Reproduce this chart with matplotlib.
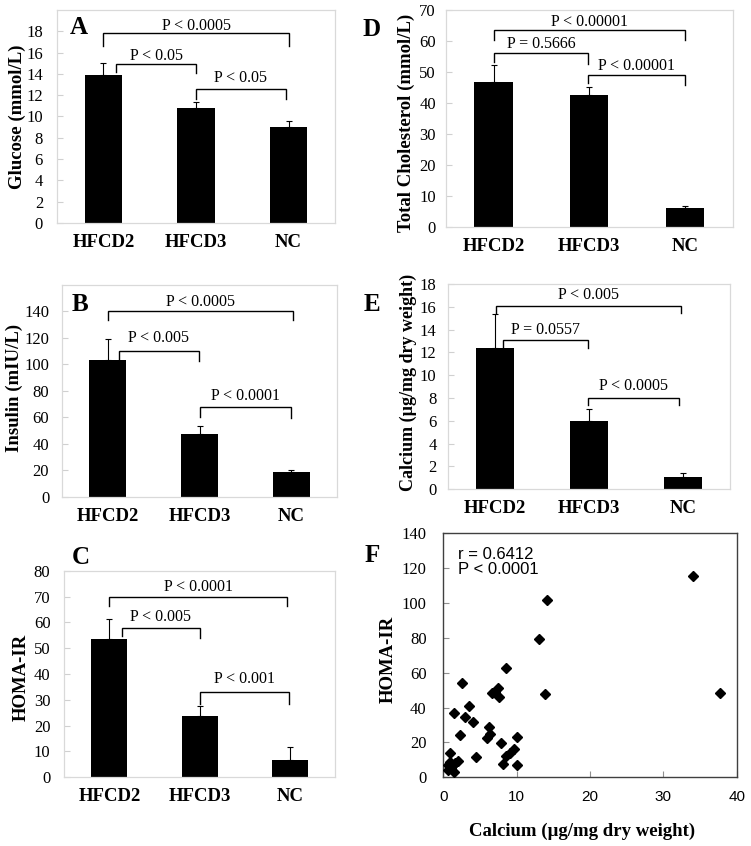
import matplotlib
matplotlib.use("Agg")
import matplotlib.pyplot as plt
import numpy as np

W, H = 751, 846
SERIF = "Liberation Serif"
SANS = "Liberation Sans"

# ---------------- data ----------------
groups = ["HFCD2", "HFCD3", "NC"]

glucose = [13.9, 10.8, 9.0]
glucose_err = [1.1, 0.6, 0.6]

insulin = [103.4, 47.3, 18.4]
insulin_err = [16.1, 6.2, 1.8]

homa = [53.4, 23.9, 6.7]
homa_err = [8.0, 3.7, 5.2]

cholesterol = [46.7, 42.7, 6.2]
cholesterol_err = [5.5, 2.5, 0.5]

calcium = [12.4, 6.0, 1.1]
calcium_err = [3.0, 1.07, 0.3]

# scatter (panel F)
calcium_x = [34.0, 14.1, 13.0, 8.5, 2.6, 13.9, 37.7, 6.6, 7.4, 7.6, 7.0,
             3.5, 1.5, 2.9, 4.1, 6.2, 6.4, 5.9, 2.3, 10.0, 7.9, 9.6, 9.1,
             8.6, 0.9, 4.4, 8.1, 10.0, 2.0, 1.6, 0.7, 1.1, 1.4, 0.7, 0.9, 1.2]
homa_y = [115.5, 102.0, 79.5, 62.5, 54.0, 48.0, 48.5, 48.6, 51.1, 46.3, 49.0,
          41.1, 36.7, 34.4, 31.5, 29.0, 24.8, 22.4, 24.0, 22.9, 19.9, 16.2, 13.7,
          12.2, 14.1, 11.9, 7.6, 7.1, 9.3, 8.0, 7.1, 5.2, 3.2, 4.2, 9.0, 6.5]

# significance brackets: (x1, x2, y_top, y_left_end, y_right_end, text, text_y)
brackets_A = [(0.0, 2.0, 17.8, 16.6, 16.6, "P < 0.0005", 18.5),
              (0.14, 1.0, 14.95, 14.2, 14.1, "P < 0.05", 15.7),
              (1.0, 1.97, 12.6, 11.6, 11.6, "P < 0.05", 13.6)]
brackets_B = [(0.0, 2.02, 140, 133.2, 133.2, "P < 0.0005", 147),
              (0.12, 0.99, 110, 104, 102.6, "P < 0.005", 120),
              (1.0, 2.0, 68, 60.5, 59.3, "P < 0.0001", 76)]
brackets_C = [(0.0, 1.97, 69.9, 66.3, 66.3, "P < 0.0001", 73.8),
              (0.14, 1.0, 57.7, 54.7, 54.1, "P < 0.005", 61.9),
              (1.0, 1.99, 33.1, 28.4, 28.4, "P < 0.001", 37.9)]
brackets_D = [(0.0, 2.0, 63.4, 60.3, 60.3, "P < 0.00001", 66.1),
              (0.0, 0.99, 56.2, 53.1, 52.4, "P = 0.5666", 58.9),
              (0.99, 2.0, 48.9, 46.5, 45.9, "P < 0.00001", 51.8)]
brackets_E = [(0.01, 1.98, 16.1, 15.5, 15.5, "P < 0.005", 17.0),
              (0.09, 0.99, 13.1, 12.4, 12.4, "P = 0.0557", 14.0),
              (0.99, 1.96, 8.0, 7.4, 7.4, "P < 0.0005", 9.06)]

# ---------------- figure ----------------
fig = plt.figure(figsize=(W / 100, H / 100), dpi=100)


def add_ax(left, right, top, bottom):
    return fig.add_axes([left / W, 1 - bottom / H, (right - left) / W, (bottom - top) / H])


def ftext(x, y, s, **kw):
    fig.text(x / W, 1 - y / H, s, **kw)


def bar_panel(ax, vals, errs, ymax, yticks, brackets, pad):
    x = np.arange(len(groups))
    ax.bar(x, vals, width=0.4, color="black", zorder=2)
    ax.errorbar(x, vals, yerr=[np.zeros(len(vals)), errs], fmt="none",
                ecolor="black", elinewidth=0.8, capsize=2, capthick=0.8, zorder=3)
    ax.set_xlim(-0.5, 2.5)
    ax.set_ylim(0, ymax)
    ax.set_yticks(yticks)
    ax.set_yticklabels([str(t) for t in yticks], fontfamily=SERIF, fontsize=12)
    ax.set_xticks(x)
    ax.set_xticklabels(groups, fontfamily=SERIF, fontsize=13.5, fontweight="bold")
    ax.tick_params(axis="x", length=0, pad=8)
    ax.tick_params(axis="y", direction="in", length=4, color="#d0d0d0", pad=pad)
    for sp in ax.spines.values():
        sp.set_color("#d9d9d9")
        sp.set_linewidth(0.9)
    for (x1, x2, yt, yl, yr, txt, ty) in brackets:
        ax.plot([x1, x1, x2, x2], [yl, yt, yt, yr], color="black", lw=1.0,
                solid_joinstyle="miter", zorder=4)
        ax.text((x1 + x2) / 2, ty, txt, ha="center", va="center",
                fontfamily=SERIF, fontsize=11.5)


axA = add_ax(57, 335, 10, 223)
bar_panel(axA, glucose, glucose_err, 20, list(range(0, 19, 2)), brackets_A, 10)
axD = add_ax(445.7, 732.7, 10, 226.7)
bar_panel(axD, cholesterol, cholesterol_err, 70, list(range(0, 71, 10)), brackets_D, 7)
axB = add_ax(61.7, 337.3, 285, 496.7)
bar_panel(axB, insulin, insulin_err, 160, list(range(0, 141, 20)), brackets_B, 9)
axE = add_ax(447.7, 730, 284, 489.3)
bar_panel(axE, calcium, calcium_err, 18, list(range(0, 19, 2)), brackets_E, 8)
axC = add_ax(64.3, 335, 570.7, 777.3)
bar_panel(axC, homa, homa_err, 80, list(range(0, 81, 10)), brackets_C, 10)

# ---------------- panel F ----------------
axF = add_ax(443.3, 736.7, 533.3, 777.3)
axF.plot(calcium_x, homa_y, linestyle="none", marker="D", markersize=5.5,
         color="black", zorder=3)
axF.set_xlim(0, 40)
axF.set_ylim(0, 140)
axF.set_xticks([0, 10, 20, 30, 40])
axF.set_xticklabels(["0", "10", "20", "30", "40"], fontfamily=SANS, fontsize=11)
axF.set_yticks(list(range(0, 141, 20)))
axF.set_yticklabels([str(t) for t in range(0, 141, 20)], fontfamily=SERIF, fontsize=12)
axF.tick_params(axis="x", direction="in", length=4, color="#909090", pad=9)
axF.tick_params(axis="y", direction="in", length=4, color="#909090", pad=12)
for sp in axF.spines.values():
    sp.set_color("#404040")
    sp.set_linewidth(1.0)
axF.text(0.05, 0.945, "r = 0.6412\nP < 0.0001", transform=axF.transAxes,
         ha="left", va="top", fontfamily=SANS, fontsize=12, linespacing=1.05)

# ---------------- labels ----------------
lab = dict(fontfamily=SERIF, fontsize=13.5, fontweight="bold", rotation=90,
           ha="center", va="center")
ftext(17, 117, "Glucose (mmol/L)", **lab)
ftext(406, 123, "Total Cholesterol (mmol/L)", **lab)
ftext(14, 388, "Insulin (mIU/L)", **lab)
ftext(408, 382, "Calcium (µg/mg dry weight)", **dict(lab, fontsize=13))
ftext(21, 677, "HOMA-IR", **lab)
ftext(388, 659, "HOMA-IR", **lab)
ftext(582, 831, "Calcium (µg/mg dry weight)", fontfamily=SERIF, fontsize=13.5,
      fontweight="bold", ha="center", va="center")

pl = dict(fontfamily=SERIF, fontsize=18, fontweight="bold", ha="center", va="center")
ftext(79, 28, "A", **pl)
ftext(80, 304, "B", **pl)
ftext(81, 557, "C", **pl)
ftext(372, 29, "D", **pl)
ftext(372, 304, "E", **pl)
ftext(372, 556, "F", **pl)

fig.savefig("out.png", dpi=100)
